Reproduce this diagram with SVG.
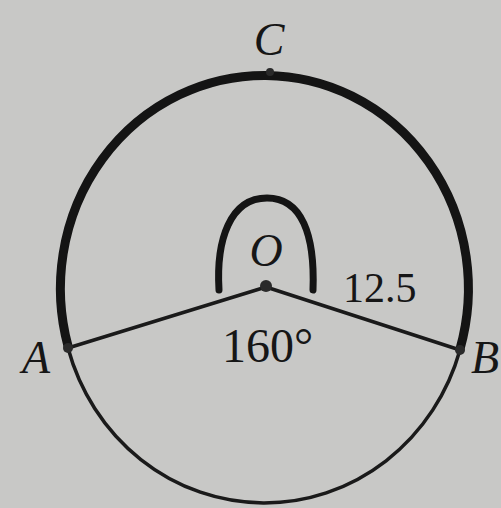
<svg xmlns="http://www.w3.org/2000/svg" width="501" height="508" viewBox="0 0 501 508">
  <style>
    .lbl { font-family: "Liberation Serif", "Times New Roman", serif; font-style: italic; font-size: 46px; fill: #161616; text-anchor: middle; }
    .num { font-family: "Liberation Serif", "Times New Roman", serif; font-size: 42px; fill: #161616; }
    .thick { fill: none; stroke: #141414; stroke-width: 9; stroke-linecap: round; }
    .thin { fill: none; stroke: #1a1a1a; stroke-width: 3.5; stroke-linecap: round; }
    .dot { fill: #2a2a2a; }
  </style>
  <rect width="501" height="508" fill="#c8c8c6"/>
  <g id="connectors">
    <path id="arc-ACB" class="thick" d="M 68 346 A 204 213 0 1 1 460 349"/>
    <path id="arc-AB" class="thin" d="M 68 348 A 204 213 0 0 0 460 350"/>
    <path id="OA" class="thin" d="M 266 287 L 68 348"/>
    <path id="OB" class="thin" d="M 266 287 L 460 350"/>
    <path id="angle-mark" class="thick" d="M 219 290 C 216 240 230 198 267 198 C 302 198 315 235 313 290" style="stroke-width:7"/>
  </g>
  <g id="node-C">
    <circle class="dot" cx="270" cy="72" r="4"/>
    <text class="lbl" x="269" y="55">C</text>
  </g>
  <g id="node-O">
    <circle class="dot" cx="266" cy="286" r="6"/>
    <text class="lbl" x="266" y="266">O</text>
  </g>
  <g id="node-A">
    <circle class="dot" cx="68" cy="348" r="5"/>
    <text class="lbl" x="36" y="373">A</text>
  </g>
  <g id="node-B">
    <circle class="dot" cx="460" cy="350" r="5"/>
    <text class="lbl" x="485" y="373">B</text>
  </g>
  <g id="labels">
    <text class="num" x="343" y="302">12.5</text>
    <text class="num" x="222" y="362" style="font-size:48px">160°</text>
  </g>
</svg>
